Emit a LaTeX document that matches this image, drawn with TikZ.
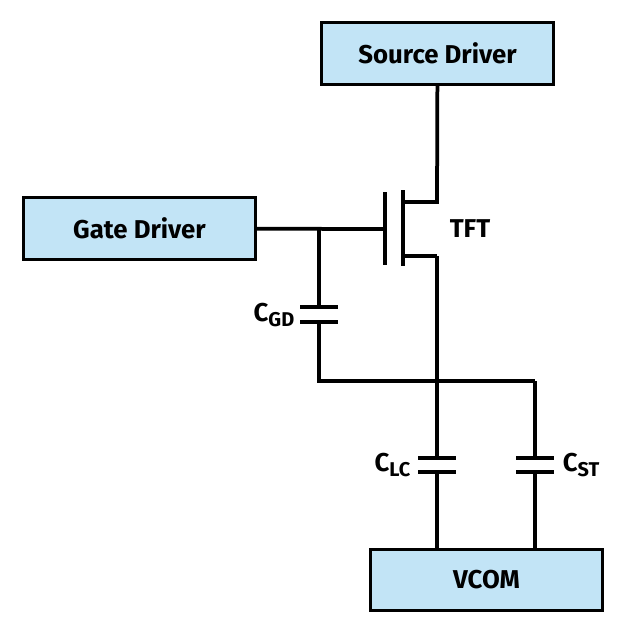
\documentclass[tikz,border=0pt]{standalone}
\usepackage{fontspec}
\setmainfont{Fira Sans}
\definecolor{boxblue}{HTML}{C2E4F6}
\newcommand{\capsub}[1]{\raisebox{-0.35ex}{\fontsize{17}{20}\selectfont #1}}
\begin{document}
\begin{tikzpicture}[x=0.03cm,y=-0.03cm,line width=3.2pt]
        \tikzstyle{driver} = [draw,fill=boxblue,line width=2.6pt,minimum width=6.95cm,minimum height=1.85cm,font=\fontsize{22}{26}\selectfont\bfseries]
        \tikzstyle{lbl} = [font=\fontsize{22}{26}\selectfont\bfseries]
        \useasboundingbox (0,0) rectangle (630,637);

        \node[driver] (src) at (437.5,53.5){Source Driver};
        \node[driver] (gate) at (139.5,228.5){Gate Driver};
        \node[driver] (vcom) at (486.5,580){VCOM};

        % transistor
        \coordinate (gtop) at (385,192); \coordinate (gbot) at (385,265);
        \coordinate (ctop) at (403,190); \coordinate (cbot) at (403,266);
        \coordinate (drn) at (437,202); \coordinate (srce) at (437,256);
        \coordinate (gin) at (385,229); \coordinate (jg) at (319,229);
        \draw (gtop) -- (gbot) (ctop) -- (cbot);
        \draw (src) -- (437,202) -- (403,202);
        \draw (403,256) -- (srce);
        \draw (gate) -- (gin);
        \node[lbl] (tft) at (470,229){TFT};

        % C_GD
        \coordinate (jd) at (437,381); \coordinate (jr) at (535,381);
        \draw (jg) -- (319,307) (300,307) -- (338,307);
        \draw (300,322) -- (338,322) (319,322) -- (319,381) -- (jr);
        \node[lbl,anchor=east] (cgd) at (300,315){C\capsub{GD}};

        % C_LC and C_ST
        \draw (srce) -- (437,458) (418,458) -- (456,458);
        \draw (418,472) -- (456,472) (437,472) -- (vcom.north -| 437,0);
        \draw (jr) -- (535,458) (516,458) -- (554,458);
        \draw (516,472) -- (554,472) (535,472) -- (vcom.north -| 535,0);
        \node[lbl,anchor=east] (clc) at (416,465){C\capsub{LC}};
        \node[lbl,anchor=west] (cst) at (557,465){C\capsub{ST}};
\end{tikzpicture}
\end{document}
